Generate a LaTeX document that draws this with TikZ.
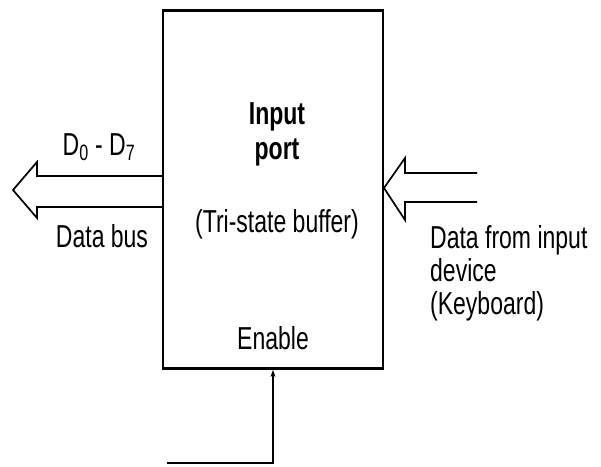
\documentclass[tikz,border=0pt]{standalone}
\usepackage{fontspec}
\setmainfont{Liberation Sans}
\usepackage{graphicx}
\usetikzlibrary{arrows.meta}

% texto um pouco esticado na vertical
\newcommand{\alto}[1]{\scalebox{1}[1.38]{#1}}

\begin{document}
\begin{tikzpicture}[x=1pt,y=-1pt,>=Stealth,
		rotulo/.style={font=\fontsize{23}{33}\selectfont,inner sep=0pt},
		seta/.style={line width=1.7pt,line join=miter}]
	
	\useasboundingbox (0,0) rectangle (601,466);
	
	% Porta de entrada
	\node[draw,line width=2.8pt,minimum width=220pt,minimum height=358pt,inner sep=0pt] (porta) at (273,189.5) {};
	
	\node[rotulo,align=center,font=\fontsize{23}{35}\bfseries] (nome) at (277,134) {\alto{Input}\\\alto{port}};
	\node[rotulo] (tri) at (277,224) {\alto{(Tri-state buffer)}};
	\node[rotulo] (en) at (273,338) {\alto{Enable}};
	
	% barramento de dados (saida para a esquerda)
	\draw[seta] (163,176) -- (37,176) -- (37,162) -- (13,190) -- (37,218) -- (37,207) -- (163,207);
	\node[rotulo] (dd) at (99,147) {\alto{D\textsubscript{0} - D\textsubscript{7}}};
	\node[rotulo] (bus) at (102,236) {\alto{Data bus}};
	
	% dados vindos do teclado
	\draw[seta] (477,173) -- (405,173) -- (405,158) -- (384,188) -- (405,220) -- (405,202) -- (477,202);
	\node[rotulo,align=left,anchor=north west] (teclado) at (430,225)
		{\alto{Data from input}\\\alto{device}\\\alto{(Keyboard)}};
	
	% sinal de habilitacao
	\coordinate (hab) at (167,463);
	\draw[line width=1.7pt,-{Stealth[length=7pt,width=5pt]}] (hab) -| (porta.south);
	
\end{tikzpicture}
\end{document}
